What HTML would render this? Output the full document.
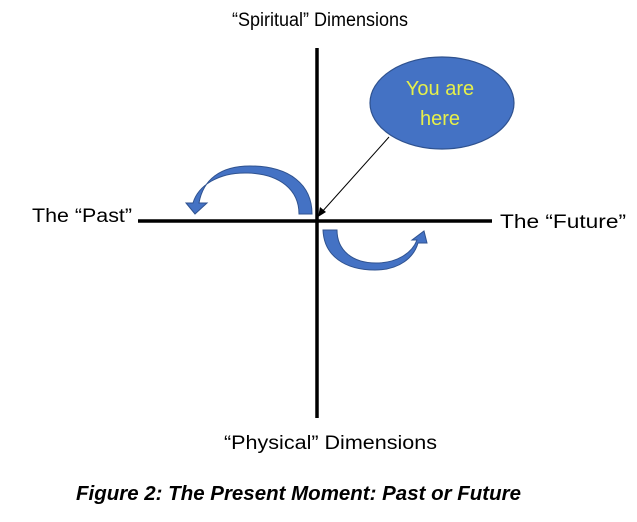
<!DOCTYPE html>
<html><head><meta charset="utf-8"><style>
html,body{margin:0;padding:0;background:#fff;}
svg{display:block;}
text{font-family:"Liberation Sans",sans-serif;}
</style></head><body>
<svg width="637" height="522" viewBox="0 0 637 522">
<text x="232" y="26" font-size="19" textLength="176" lengthAdjust="spacingAndGlyphs">“Spiritual” Dimensions</text>
<text x="32" y="222" font-size="19" textLength="100" lengthAdjust="spacingAndGlyphs">The “Past”</text>
<text x="500" y="228" font-size="19" textLength="126" lengthAdjust="spacingAndGlyphs">The “Future”</text>
<text x="224" y="449" font-size="19" textLength="213" lengthAdjust="spacingAndGlyphs">“Physical” Dimensions</text>
<text x="76" y="500" font-size="20" font-weight="bold" font-style="italic" textLength="445" lengthAdjust="spacingAndGlyphs">Figure 2: The Present Moment: Past or Future</text>
<line x1="317" y1="48" x2="317" y2="418" stroke="#000" stroke-width="3.5"/>
<line x1="138" y1="221" x2="492" y2="221" stroke="#000" stroke-width="3.5"/>
<ellipse cx="442" cy="103" rx="72" ry="46" fill="#4472c4" stroke="#2f528f" stroke-width="1.2"/>
<text x="440" y="95" font-size="20" fill="#e6f04a" text-anchor="middle">You are</text>
<text x="440" y="125" font-size="20" fill="#e6f04a" text-anchor="middle">here</text>
<line x1="389" y1="137" x2="321" y2="213" stroke="#000" stroke-width="1"/>
<polygon points="318,217 320,207 326,212" fill="#000"/>
<path d="M312,214 C312,185 290,166 250,166 C220,166 203,180 199,203 L207,203 L195,214 L186,203 L193,203 C198,186 218,172 248,173 C280,174 299,190 299,214 Z" fill="#4472c4" stroke="#2f528f" stroke-width="1"/>
<path d="M323,230 C324,256 345,270 375,270 C400,270 414,257 418,243 L427,243 L424,231 L412,240 L417,240 C412,253 397,263 376,263 C352,263 337,250 337,230 Z" fill="#4472c4" stroke="#2f528f" stroke-width="1"/>
</svg>
</body></html>
